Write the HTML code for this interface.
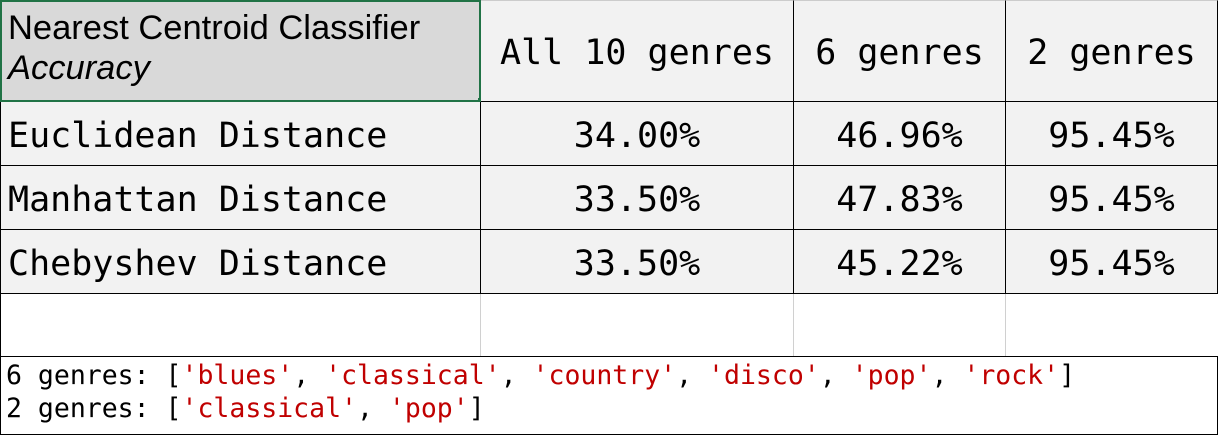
<!DOCTYPE html>
<html><head><meta charset="utf-8"><style>
body{margin:0;width:1218px;height:435px;background:#fff;overflow:hidden;position:relative;font-family:"DejaVu Sans Mono","Liberation Mono",monospace}
.c{position:absolute;box-sizing:border-box;background:#f2f2f2;color:#000;font-size:35px;white-space:nowrap}
.hl{border-right:1px solid #000;border-bottom:1px solid #000}
.n{text-align:center}
.s{color:#c00000}
</style></head><body>
<div class="c" style="left:0;top:0;width:481px;height:102px;background:#d9d9d9;border:2px solid #217346;font-family:'Liberation Sans',sans-serif;font-size:34.5px;line-height:40px;padding:6px 0 0 6px">Nearest Centroid Classifier<br><i>Accuracy</i></div>
<div style="position:absolute;left:478px;top:98px;width:6px;height:6px;background:#217346"></div>
<div class="c hl n" style="left:481px;top:0;width:313px;height:102px;line-height:104px;border-top:1px solid #ccc">All 10 genres</div>
<div class="c hl n" style="left:794px;top:0;width:212px;height:102px;line-height:104px;border-top:1px solid #ccc">6 genres</div>
<div class="c hl n" style="left:1006px;top:0;width:212px;height:102px;line-height:104px;border-top:1px solid #ccc">2 genres</div>
<div id="rows"></div>
<div style="position:absolute;left:0;top:294px;width:1px;height:63px;background:#000"></div>
<div style="position:absolute;left:480px;top:294px;width:1px;height:63px;background:#d0d0d0"></div>
<div style="position:absolute;left:793px;top:294px;width:1px;height:63px;background:#d0d0d0"></div>
<div style="position:absolute;left:1005px;top:294px;width:1px;height:63px;background:#d0d0d0"></div>
<div style="position:absolute;left:0;top:356px;width:1218px;height:79px;box-sizing:border-box;border:1px solid #000;font-size:26.5px;line-height:33px;padding:2px 0 0 5px;white-space:pre">6 genres: [<span class="s">'blues'</span>, <span class="s">'classical'</span>, <span class="s">'country'</span>, <span class="s">'disco'</span>, <span class="s">'pop'</span>, <span class="s">'rock'</span>]
2 genres: [<span class="s">'classical'</span>, <span class="s">'pop'</span>]</div>
<script>
const metrics=["Euclidean Distance","Manhattan Distance","Chebyshev Distance"];
const all10=["34.00%","33.50%","33.50%"];
const six=["46.96%","47.83%","45.22%"];
const two=["95.45%","95.45%","95.45%"];
const cols=[[0,481],[481,313],[794,212],[1006,212]];
const R=document.getElementById('rows');
metrics.forEach((m,i)=>{
  const vals=[m,all10[i],six[i],two[i]];
  vals.forEach((v,j)=>{
    const d=document.createElement('div');
    d.className='c hl'+(j?' n':'');
    d.style.left=cols[j][0]+'px';d.style.top=(102+i*64)+'px';
    d.style.width=cols[j][1]+'px';d.style.height='64px';
    d.style.lineHeight='68px';
    if(!j){d.style.paddingLeft='7px';d.style.borderLeft='1px solid #000';}
    d.textContent=v;
    
    
    R.appendChild(d);
  });
});
</script>
</body></html>
